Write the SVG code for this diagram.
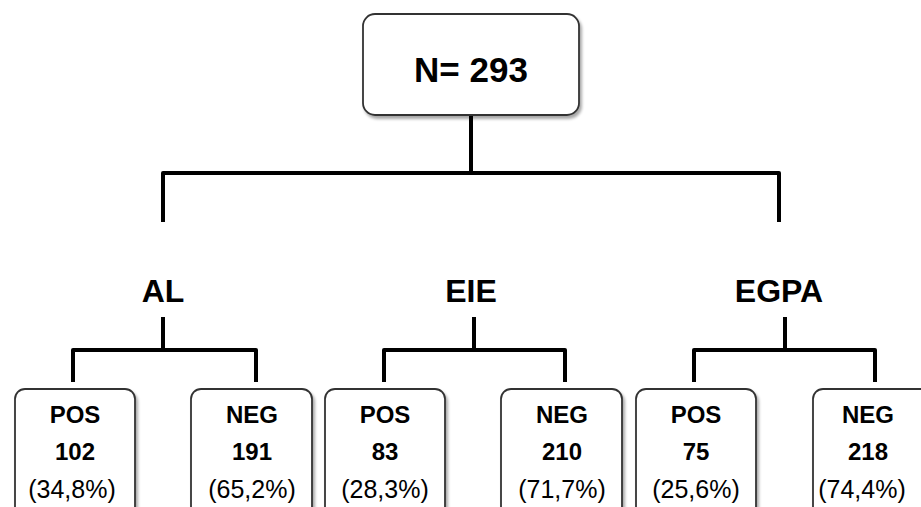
<svg xmlns="http://www.w3.org/2000/svg" width="921" height="507" viewBox="0 0 921 507">
<defs>
<filter id="sh" x="-10%" y="-10%" width="130%" height="130%">
<feGaussianBlur in="SourceAlpha" stdDeviation="1.5"/>
<feOffset dx="2" dy="3" result="o"/>
<feComponentTransfer><feFuncA type="linear" slope="0.35"/></feComponentTransfer>
<feMerge><feMergeNode/><feMergeNode in="SourceGraphic"/></feMerge>
</filter>
</defs>
<style>
.box{fill:#fff;stroke:#333;stroke-width:1.8;filter:url(#sh)}
.ln{fill:none;stroke:#000;stroke-width:4;stroke-linecap:square;stroke-linejoin:round}
.t{font-family:"Liberation Sans",Arial,sans-serif;fill:#000;text-anchor:middle}
.b{font-weight:bold}
.big{font-size:35px}
.cat{font-size:32px}
.sb{font-size:24px}
.sr{font-size:25px}
</style>
<rect width="921" height="507" fill="#fff"/>
<g id="connectors">
<path class="ln" d="M471 117 V173 M163 220 V173 H779 V220"/>
<path class="ln" d="M163 319 V350 M73 380 V350 H256 V380"/>
<path class="ln" d="M474 319 V350 M384 380 V350 H565 V380"/>
<path class="ln" d="M785 319 V350 M694 380 V350 H875 V380"/>
</g>
<g id="root">
<rect class="box" x="363" y="14" width="216" height="101" rx="12"/>
<text class="t b big" x="471" y="82">N= 293</text>
</g>
<g id="AL"><text class="t b cat" x="163" y="302">AL</text></g>
<g id="EIE"><text class="t b cat" x="471" y="302">EIE</text></g>
<g id="EGPA"><text class="t b cat" x="779" y="302">EGPA</text></g>
<g id="AL-POS">
<rect class="box" x="15" y="389" width="120" height="135" rx="10"/>
<text class="t b sb" x="75" y="423">POS</text>
<text class="t b sb" x="75" y="460">102</text>
<text class="t sr" x="72" y="498">(34,8%)</text>
</g>
<g id="AL-NEG">
<rect class="box" x="191" y="389" width="121" height="135" rx="10"/>
<text class="t b sb" x="252" y="423">NEG</text>
<text class="t b sb" x="252" y="460">191</text>
<text class="t sr" x="252" y="498">(65,2%)</text>
</g>
<g id="EIE-POS">
<rect class="box" x="325" y="389" width="120" height="135" rx="10"/>
<text class="t b sb" x="385" y="423">POS</text>
<text class="t b sb" x="385" y="460">83</text>
<text class="t sr" x="385" y="498">(28,3%)</text>
</g>
<g id="EIE-NEG">
<rect class="box" x="501" y="389" width="121" height="135" rx="10"/>
<text class="t b sb" x="562" y="423">NEG</text>
<text class="t b sb" x="562" y="460">210</text>
<text class="t sr" x="562" y="498">(71,7%)</text>
</g>
<g id="EGPA-POS">
<rect class="box" x="636" y="389" width="120" height="135" rx="10"/>
<text class="t b sb" x="696" y="423">POS</text>
<text class="t b sb" x="696" y="460">75</text>
<text class="t sr" x="696" y="498">(25,6%)</text>
</g>
<g id="EGPA-NEG">
<rect class="box" x="813" y="389" width="121" height="135" rx="10"/>
<text class="t b sb" x="868" y="423">NEG</text>
<text class="t b sb" x="868" y="460">218</text>
<text class="t sr" x="862" y="498">(74,4%)</text>
</g>
</svg>
